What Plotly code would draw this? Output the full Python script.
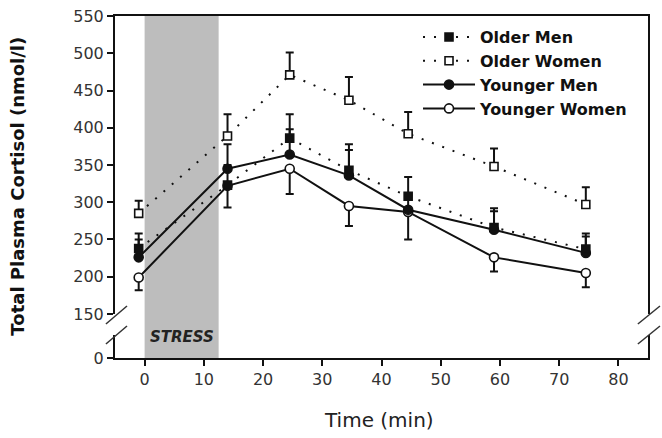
import plotly.graph_objects as go

# ---- data ----
time_min = [-1, 14, 24.5, 34.5, 44.5, 59, 74.5]

older_men = [238, 323, 386, 343, 308, 266, 237]
older_men_err = [20, 27, 32, 35, 26, 26, 21]

older_women = [285, 389, 471, 437, 392, 348, 297]
older_women_err = [17, 29, 30, 31, 29, 24, 23]

younger_men = [226, 345, 364, 336, 290, 263, 232]
younger_men_err = [24, 33, 34, 34, 20, 25, 22]

younger_women = [199, 322, 345, 295, 287, 226, 205]
younger_women_err = [17, 29, 34, 27, 37, 19, 19]

y_ticks_upper = [150, 200, 250, 300, 350, 400, 450, 500, 550]
x_ticks = [0, 10, 20, 30, 40, 50, 60, 70, 80]
stress_start, stress_end = 0, 12.5

FONT = "DejaVu Sans"
INK = "#111111"
zeros = [0] * len(time_min)

fig = go.Figure()

def add_series(name, y, up, down, symbol, fill, dash, rank):
    fig.add_trace(go.Scatter(
        x=time_min, y=y, name=name, mode="lines+markers",
        xaxis="x2", yaxis="y2", legendrank=rank,
        line=dict(color=INK, width=2, dash=dash),
        marker=dict(symbol=symbol, size=9 if symbol == "circle" else 8,
                    color=fill, line=dict(color=INK, width=1.6)),
        error_y=dict(type="data", symmetric=False, array=up, arrayminus=down,
                     color=INK, thickness=2, width=4),
    ))

add_series("Younger Women", younger_women, zeros, younger_women_err,
           "circle", "white", "solid", 4)
add_series("Younger Men", younger_men, younger_men_err, zeros,
           "circle", INK, "solid", 3)
add_series("Older Women", older_women, older_women_err, zeros,
           "square", "white", "2px,9px", 2)
add_series("Older Men", older_men, older_men_err, zeros,
           "square", INK, "2px,9px", 1)

# stress band
fig.add_shape(type="rect", xref="x", yref="paper", x0=stress_start, x1=stress_end,
              y0=0, y1=1, fillcolor="#bdbdbd", line=dict(width=0), layer="below")
fig.add_annotation(x=(stress_start + stress_end) / 2, y=0.062, xref="x", yref="paper",
                   xanchor="center", yanchor="middle",
                   text="<b><i>STRESS</i></b>", showarrow=False,
                   font=dict(family=FONT, size=15, color="#222"))

# axis break marks
for (x0, x1) in [(-0.017, 0.0225), (0.981, 1.0225)]:
    for (y0, y1) in [(0.0994, 0.152), (0.041, 0.0936)]:
        fig.add_shape(type="line", xref="paper", yref="paper",
                      x0=x0, x1=x1, y0=y0, y1=y1,
                      line=dict(color="#333", width=1.5))

# axis titles as annotations
fig.add_annotation(x=-0.182, y=0.504, xref="paper", yref="paper",
                   xanchor="center", yanchor="middle",
                   text="<b>Total Plasma Cortisol (nmol/l)</b>", textangle=-90,
                   showarrow=False, font=dict(family=FONT, size=18, color=INK))
fig.add_annotation(x=0.495, y=-0.181, xref="paper", yref="paper",
                   xanchor="center", yanchor="middle",
                   text="Time (min)", showarrow=False,
                   font=dict(family=FONT, size=20, color="#222"))

tickfont = dict(family=FONT, size=16, color="#333")
common = dict(showgrid=False, zeroline=False, linecolor=INK, linewidth=2)

fig.update_layout(
    width=662, height=438, autosize=False,
    margin=dict(l=115, r=14, t=16, b=80),
    paper_bgcolor="white", plot_bgcolor="white",
    showlegend=True,
    legend=dict(x=0.5685, y=0.988, xanchor="left", yanchor="top",
                bgcolor="rgba(0,0,0,0)", itemwidth=52, tracegroupgap=0,
                font=dict(family=FONT, size=16, color=INK, weight="bold")),
    xaxis=dict(domain=[0, 1], anchor="y", range=[-5, 85], tickvals=x_ticks,
               ticks="outside", ticklen=6, tickwidth=1.5, tickcolor=INK,
               showline=True, tickfont=tickfont, automargin=False, **common),
    xaxis2=dict(domain=[0, 1], anchor="y2", range=[-5, 85], matches="x",
                side="top", showline=True, showticklabels=False, ticks="",
                automargin=False, **common),
    yaxis=dict(domain=[0, 0.067], anchor="x", range=[0, 30], tickvals=[0],
               ticks="outside", ticklen=6, tickwidth=1.5, tickcolor=INK,
               showline=True, mirror=True, tickfont=tickfont, automargin=False,
               **common),
    yaxis2=dict(domain=[0.1287, 1], anchor="x2", range=[150, 550],
                tickvals=y_ticks_upper, ticks="outside", ticklen=6, tickwidth=1.5,
                tickcolor=INK, showline=True, mirror=True, tickfont=tickfont,
                automargin=False, **common),
)

fig.write_html("out.html")
